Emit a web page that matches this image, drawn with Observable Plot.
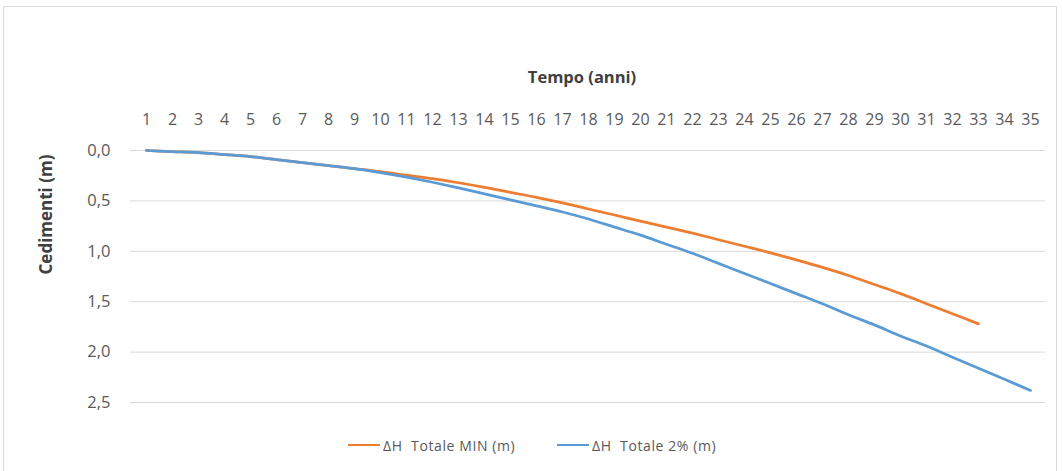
<!DOCTYPE html>
<html>
<head>
<meta charset="utf-8">
<script src="https://cdn.jsdelivr.net/npm/d3@7"></script>
<script src="https://cdn.jsdelivr.net/npm/@observablehq/plot@0.6"></script>
<style>
  html, body { margin: 0; padding: 0; background: #fff; }
  body { width: 1062px; height: 471px; position: relative; overflow: hidden; font-family: "Open Sans", "Liberation Sans", sans-serif; }
  #frame { position: absolute; left: 3px; top: 6px; width: 1054px; height: 480px; border: 1px solid #d9d9d9; box-sizing: border-box; }
  #chart { position: absolute; left: 0; top: 0; }
  #legend { position: absolute; left: 0; top: 435px; width: 1062px; height: 20px; font-size: 14px; letter-spacing: 0.6px; color: #595959; }
  .item { position: absolute; top: 0; display: flex; align-items: center; height: 20px; }
  .sw { display: inline-block; width: 32px; height: 2.5px; margin-right: 3px; }
</style>
</head>
<body>
<div id="frame"></div>
<div id="chart"></div>
<div id="legend"></div>
<script>
// ---- data ----
const anni = d3.range(1, 36); // categories 1..35
const xTickLabels = anni.map(String);
const yTicks = [0, 0.5, 1.0, 1.5, 2.0, 2.5];
const seriesNames = ["\u0394H  Totale MIN (m)", "\u0394H  Totale 2% (m)"];
const seriesColors = ["#ED7D31", "#5B9BD5"];
const totaleMin = [
  0.00, 0.01, 0.02, 0.04, 0.06, 0.09, 0.12, 0.15, 0.18, 0.21,
  0.245, 0.28, 0.32, 0.365, 0.415, 0.465, 0.52, 0.58, 0.64, 0.70,
  0.76, 0.82, 0.885, 0.95, 1.015, 1.085, 1.16, 1.24, 1.33, 1.42,
  1.52, 1.62, 1.72
];
const totale2 = [
  0.00, 0.01, 0.02, 0.04, 0.06, 0.09, 0.12, 0.15, 0.18, 0.22,
  0.265, 0.315, 0.37, 0.43, 0.49, 0.55, 0.61, 0.68, 0.76, 0.84,
  0.93, 1.02, 1.12, 1.22, 1.32, 1.42, 1.52, 1.63, 1.73, 1.84,
  1.94, 2.05, 2.16, 2.27, 2.38
];

const rows = [
  ...totaleMin.map((v, i) => ({anno: anni[i], v, s: seriesNames[0]})),
  ...totale2.map((v, i) => ({anno: anni[i], v, s: seriesNames[1]}))
];

const fmt = d => d.toFixed(1).replace(".", ",");
const gray = "#595959";

const chart = Plot.plot({
  width: 1062,
  height: 430,
  marginTop: 150,
  marginBottom: 28,
  marginLeft: 130,
  marginRight: 17,
  style: {fontFamily: "'Open Sans', 'Liberation Sans', sans-serif", background: "transparent", color: gray},
  x: {type: "point", domain: anni, padding: 0.5},
  y: {domain: [0, 2.5], reverse: true},
  color: {domain: seriesNames, range: seriesColors},
  marks: [
    Plot.ruleY(yTicks, {stroke: "#d9d9d9", strokeWidth: 1}),
    Plot.axisX({anchor: "top", ticks: anni, tickFormat: (d, i) => xTickLabels[i], tickSize: 0, tickPadding: 26, fontSize: 16, label: null, fill: gray}),
    Plot.axisY({ticks: yTicks, tickFormat: fmt, tickSize: 0, tickPadding: 20, fontSize: 16.5, label: null, fill: gray}),
    Plot.line(rows, {x: "anno", y: "v", z: "s", stroke: "s", strokeWidth: 2.75, curve: "monotone-x"}),
    Plot.text(["Tempo (anni)"], {frameAnchor: "top", lineAnchor: "middle", dy: -73, dx: -6, fontSize: 16.5, fontWeight: "bold", fill: "#404040"}),
    Plot.text(["Cedimenti (m)"], {frameAnchor: "left", lineAnchor: "middle", dx: -84, dy: -2, rotate: -90, fontSize: 17, fontWeight: "bold", fill: "#404040"})
  ]
});
document.getElementById("chart").appendChild(chart);

const legend = document.getElementById("legend");
const lefts = [348, 557];
seriesNames.forEach((name, i) => {
  const it = document.createElement("div");
  it.className = "item";
  it.style.left = lefts[i] + "px";
  const sw = document.createElement("span");
  sw.className = "sw";
  sw.style.background = seriesColors[i];
  it.appendChild(sw);
  const t = document.createElement("span");
  t.textContent = name;
  t.style.whiteSpace = "pre";
  it.appendChild(t);
  legend.appendChild(it);
});
</script>
</body>
</html>
